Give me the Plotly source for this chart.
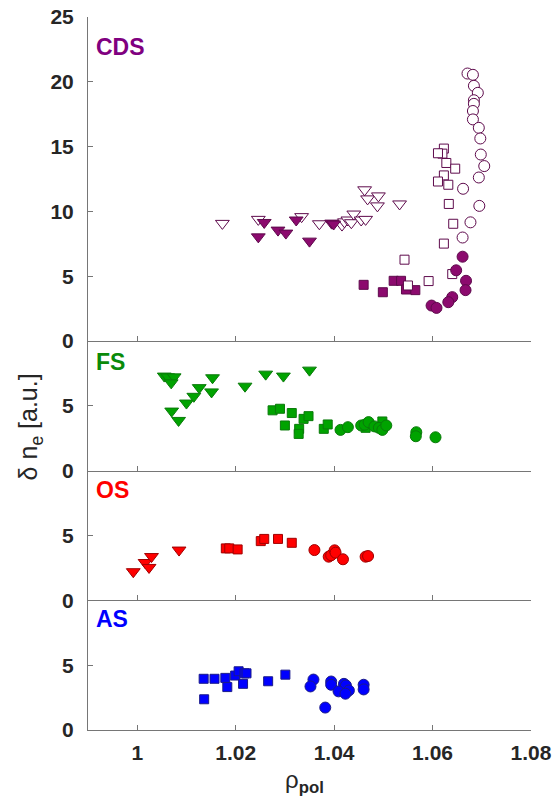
import plotly.graph_objects as go

# ---------------- data ----------------
# CDS panel
cds_circ_open_x = [1.0671, 1.0682, 1.0684, 1.0692, 1.0684, 1.0684, 1.0682, 1.0682, 1.0694,
                   1.0697, 1.0698, 1.0705, 1.0694, 1.0662, 1.0695, 1.0677, 1.0661]
cds_circ_open_y = [20.64, 20.54, 19.69, 19.15, 18.58, 18.3, 17.75, 17.1, 16.45,
                   15.63, 14.39, 13.5, 12.62, 11.75, 10.43, 9.16, 7.99]
cds_circ_x = [1.0661, 1.0648, 1.0668, 1.0667, 1.0640, 1.0632, 1.0598, 1.0608]
cds_circ_y = [6.51, 5.46, 4.65, 3.93, 3.39, 3.0, 2.74, 2.56]
cds_sq_open_x = [1.0623, 1.0620, 1.0611, 1.0628, 1.0646, 1.0623, 1.0611, 1.0632, 1.0633,
                 1.0642, 1.0623, 1.0543, 1.0640, 1.0592, 1.0550]
cds_sq_open_y = [14.85, 14.46, 14.49, 13.74, 13.3, 12.78, 12.31, 12.06, 10.58,
                 9.05, 7.52, 6.28, 5.17, 4.63, 4.29]
cds_sq_x = [1.0460, 1.0499, 1.0521, 1.0536, 1.0546, 1.0565]
cds_sq_y = [4.34, 3.77, 4.65, 4.65, 3.98, 3.93]
cds_tri_open_x = [1.0173, 1.0246, 1.0334, 1.0370, 1.0416, 1.0421, 1.0428, 1.0435, 1.0440,
                  1.0455, 1.0464, 1.0462, 1.0468, 1.0490, 1.0488, 1.0533]
cds_tri_open_y = [9.08, 9.39, 9.6, 9.05, 8.95, 9.2, 9.34, 9.13, 9.8,
                  9.34, 9.39, 11.67, 10.97, 11.2, 10.43, 10.58]
cds_tri_x = [1.0258, 1.0246, 1.0286, 1.0302, 1.0323, 1.0350, 1.0395, 1.0399]
cds_tri_y = [9.15, 8.04, 8.56, 8.33, 9.34, 7.71, 9.1, 9.03]

# FS panel
fs_tri_x = [1.0055, 1.0062, 1.0075, 1.0069, 1.0070, 1.0084, 1.0100, 1.0115, 1.0126,
            1.0151, 1.0153, 1.0219, 1.0261, 1.0297, 1.0350]
fs_tri_y = [7.30, 7.24, 7.24, 6.78, 4.60, 3.88, 5.22, 5.74, 6.41,
            6.08, 7.17, 6.52, 7.45, 7.30, 7.76]
fs_sq_x = [1.0275, 1.0290, 1.0314, 1.0300, 1.0329, 1.0328, 1.0338, 1.0348, 1.0379,
           1.0387, 1.0464, 1.0498]
fs_sq_y = [4.66, 4.78, 4.45, 3.49, 3.23, 2.84, 4.00, 4.21, 3.23, 3.57, 3.31, 3.80]
fs_circ_x = [1.0413, 1.0428, 1.0455, 1.0462, 1.0470, 1.0482, 1.0491, 1.0498, 1.0506,
             1.0567, 1.0566, 1.0606]
fs_circ_y = [3.15, 3.36, 3.49, 3.55, 3.75, 3.42, 3.31, 3.15, 3.49, 2.97, 2.66, 2.58]

# OS panel
os_tri_x = [0.9992, 1.0016, 1.0024, 1.0029, 1.0085]
os_tri_y = [2.21, 2.92, 2.54, 3.38, 3.88]
os_sq_x = [1.0180, 1.0187, 1.0204, 1.0251, 1.0258, 1.0286, 1.0314]
os_sq_y = [4.01, 4.01, 3.93, 4.57, 4.74, 4.74, 4.44]
os_circ_x = [1.0360, 1.0389, 1.0394, 1.0401, 1.0403, 1.0418, 1.0464, 1.0469]
os_circ_y = [3.88, 3.37, 3.48, 3.86, 3.68, 3.17, 3.37, 3.42]

# AS panel
as_sq_x = [1.0135, 1.0157, 1.0179, 1.0183, 1.0199, 1.0206, 1.0218, 1.0222, 1.0215,
           1.0266, 1.0301, 1.0136]
as_sq_y = [3.95, 3.95, 4.02, 3.31, 4.20, 4.53, 4.37, 4.37, 3.56, 3.76, 4.27, 2.37]
as_circ_x = [1.0358, 1.0352, 1.0394, 1.0394, 1.0420, 1.0424, 1.0409, 1.0430, 1.0423,
             1.0460, 1.0460, 1.0382]
as_circ_y = [3.89, 3.36, 3.74, 3.49, 3.56, 3.44, 2.98, 3.05, 2.80, 3.49, 3.13, 1.73]

x_ticks = [1.00, 1.02, 1.04, 1.06, 1.08]
x_tick_text = ["1", "1.02", "1.04", "1.06", "1.08"]
cds_y_ticks = [0, 5, 10, 15, 20, 25]
small_y_ticks = [0, 5]

# ---------------- styling ----------------
W, H = 553, 810
FONT = "Liberation Sans, Arial, Helvetica, sans-serif"
AX_COL = "#767676"
TXT_COL = "#262626"

CDS_FILL, CDS_EDGE, CDS_LBL = "#8c0a6e", "#5e0a4c", "#800080"
FS_FILL, FS_EDGE, FS_LBL = "#00a300", "#0a7a0a", "#0a8a0a"
OS_FILL, OS_EDGE, OS_LBL = "#ff0000", "#a00000", "#ff0000"
AS_FILL, AS_EDGE, AS_LBL = "#0000ff", "#1a1a8a", "#0000ff"

SIZES = {"circle": 11, "square": 9, "triangle-down": 12}

fig = go.Figure()


def add(xs, ys, symbol, fill, edge, yaxis):
    fig.add_trace(go.Scatter(
        x=xs, y=ys, mode="markers", xaxis=yaxis.replace("y", "x"), yaxis=yaxis,
        marker=dict(symbol=symbol, size=SIZES[symbol], color=fill,
                    line=dict(color=edge, width=1)),
        showlegend=False, hoverinfo="x+y"))


# CDS (top) -> y4 / x4
add(cds_tri_open_x, cds_tri_open_y, "triangle-down", "white", CDS_EDGE, "y4")
add(cds_tri_x, cds_tri_y, "triangle-down", CDS_FILL, CDS_EDGE, "y4")
add(cds_sq_x, cds_sq_y, "square", CDS_FILL, CDS_EDGE, "y4")
add(cds_sq_open_x, cds_sq_open_y, "square", "white", CDS_EDGE, "y4")
add(cds_circ_open_x, cds_circ_open_y, "circle", "white", CDS_EDGE, "y4")
add(cds_circ_x, cds_circ_y, "circle", CDS_FILL, CDS_EDGE, "y4")

# FS -> y3
add(fs_tri_x, fs_tri_y, "triangle-down", FS_FILL, FS_EDGE, "y3")
add(fs_sq_x, fs_sq_y, "square", FS_FILL, FS_EDGE, "y3")
add(fs_circ_x, fs_circ_y, "circle", FS_FILL, FS_EDGE, "y3")

# OS -> y2
add(os_tri_x, os_tri_y, "triangle-down", OS_FILL, OS_EDGE, "y2")
add(os_sq_x, os_sq_y, "square", OS_FILL, OS_EDGE, "y2")
add(os_circ_x, os_circ_y, "circle", OS_FILL, OS_EDGE, "y2")

# AS (bottom) -> y
add(as_sq_x, as_sq_y, "square", AS_FILL, AS_EDGE, "y")
add(as_circ_x, as_circ_y, "circle", AS_FILL, AS_EDGE, "y")

# panel heights proportional to their value spans (25, 10, 10, 10)
spans = [10, 10, 10, 25]  # bottom to top: AS, OS, FS, CDS
total = sum(spans)
bounds = [0]
for s in spans:
    bounds.append(bounds[-1] + s / total)

common_x = dict(range=[0.99, 1.08], tickvals=x_ticks, ticktext=x_tick_text,
                ticks="inside", ticklen=5, tickwidth=1, tickcolor=AX_COL,
                showline=True, linecolor=AX_COL, linewidth=1, mirror=False,
                showgrid=False, zeroline=False, fixedrange=True, automargin=False,
                ticklabelstandoff=4,
                tickfont=dict(family=FONT, size=21, color=TXT_COL, weight="bold"))
common_y = dict(ticks="inside", ticklen=5, tickwidth=1, tickcolor=AX_COL,
                showline=True, linecolor=AX_COL, linewidth=1, mirror=False,
                showgrid=False, zeroline=False, fixedrange=True, automargin=False,
                ticklabelstandoff=9,
                tickfont=dict(family=FONT, size=21, color=TXT_COL, weight="bold"))

layout = dict(width=W, height=H, paper_bgcolor="white", plot_bgcolor="white",
              margin=dict(l=88, r=22, t=17, b=80, autoexpand=False), showlegend=False)

names = ["", "2", "3", "4"]
for i, n in enumerate(names):
    xa = dict(common_x, anchor="y" + n, domain=[0, 1])
    if n:
        xa["matches"] = "x"
        xa["showticklabels"] = False
    layout["xaxis" + n] = xa
    ya = dict(common_y, anchor="x" + n, domain=[bounds[i], bounds[i + 1]])
    if n == "4":
        ya.update(range=[0, 25], tickvals=cds_y_ticks)
    else:
        ya.update(range=[0, 10], tickvals=small_y_ticks)
    layout["yaxis" + n] = ya

fig.update_layout(**layout)

# panel labels
labels = [("CDS", CDS_LBL, "y4", 0.907), ("FS", FS_LBL, "y3", 0.838),
          ("OS", OS_LBL, "y2", 0.854), ("AS", AS_LBL, "y", 0.854)]
for txt, col, ya, yy in labels:
    fig.add_annotation(text=txt, xref="paper", yref=ya + " domain", x=0.014, y=yy,
                       xanchor="left", yanchor="middle", showarrow=False,
                       font=dict(family=FONT, size=23, color=col, weight="bold"))

# axis titles
fig.add_annotation(text="δ n<sub>e</sub> [a.u.]", xref="paper", yref="paper",
                   x=-0.13, y=0.425, textangle=-90, xanchor="center", yanchor="middle",
                   showarrow=False, font=dict(family=FONT, size=25, color=TXT_COL))
fig.add_annotation(text="ρ<sub><b>pol</b></sub>", xref="paper", yref="paper",
                   x=0.489, y=-0.072, xanchor="center", yanchor="middle",
                   showarrow=False, font=dict(family=FONT, size=24, color=TXT_COL))

fig.write_html("out.html")
